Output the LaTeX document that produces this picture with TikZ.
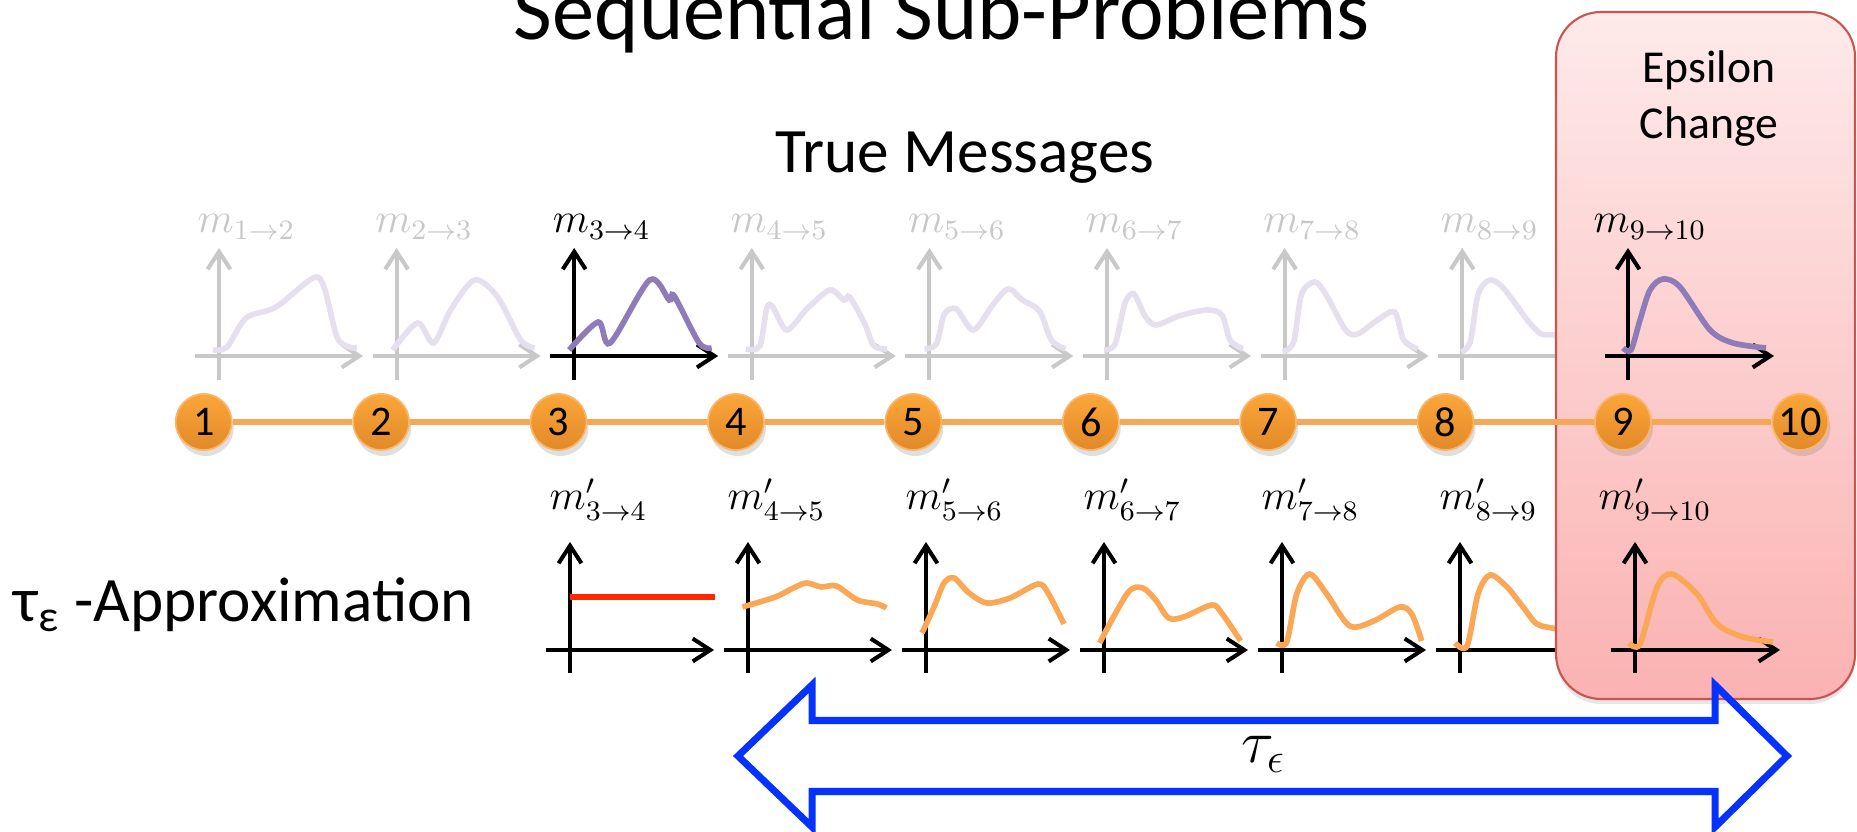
\documentclass[tikz,border=0pt]{standalone}
\usepackage[no-math]{fontspec}
\newfontfamily\calibri{Carlito}
\usepackage{tikz}
\usetikzlibrary{arrows.meta, shadows}
\definecolor{axisgray}{RGB}{200,200,200}
\definecolor{lavender}{RGB}{229,223,238}
\definecolor{msgpurple}{RGB}{142,124,184}
\definecolor{approxorange}{RGB}{250,168,85}
\definecolor{approxred}{RGB}{255,40,0}
\definecolor{nodetop}{RGB}{251,166,58}
\definecolor{nodebottom}{RGB}{226,137,40}
\definecolor{nodeedge}{RGB}{250,182,105}
\definecolor{chainorange}{RGB}{246,168,90}
\definecolor{boxtop}{RGB}{254,234,234}
\definecolor{boxbottom}{RGB}{251,178,178}
\definecolor{boxedge}{RGB}{200,85,80}
\definecolor{arrowblue}{RGB}{5,50,255}

\begin{document}
\begin{tikzpicture}[x=1cm, y=1cm,
    axis/.style={line width=1.15pt, -{Straight Barb[length=5pt,width=6.5pt]}},
    fadedcurve/.style={lavender, line width=1.6pt},
    truecurve/.style={msgpurple, line width=1.6pt},
    approxcurve/.style={approxorange, line width=1.6pt},
    msglabel/.style={anchor=base west, inner sep=0pt, font=\fontsize{12}{14}\selectfont},
    varnode/.style={circle, minimum size=0.56cm, inner sep=0pt, top color=nodetop,
      bottom color=nodebottom, draw=nodeedge, line width=0.5pt,
      font=\calibri\fontsize{12}{12}\selectfont,
      drop shadow={opacity=0.25, shadow xshift=0.02cm, shadow yshift=-0.06cm}},
    chain/.style={chainorange, line width=1.7pt},
  ]
  \useasboundingbox (0,0) rectangle (18.57,8.32);

  % headings
  \node[font=\calibri\fontsize{24}{24}\selectfont, anchor=base] (title) at (9.42,7.92) {Sequential Sub-Problems};
  \node[font=\calibri\fontsize{18}{18}\selectfont, anchor=base] (truemsg) at (9.65,6.59) {True Messages};
  \node[font=\calibri\fontsize{18}{18}\selectfont, anchor=base west, inner sep=0pt] (approx) at (0.13,2.10)
    {τ\textsubscript{ε} -Approximation};

  % true messages, axes and labels
  \foreach \k/\col in {1/axisgray, 2/axisgray, 3/black, 4/axisgray, 5/axisgray, 6/axisgray, 7/axisgray, 8/axisgray} {
    \pgfmathsetmacro{\gx}{2.19+1.776*(\k-1)}
    \pgfmathtruncatemacro{\kn}{\k+1}
    \draw[axis, \col] (\gx-0.24,4.76) -- (\gx+1.44,4.76);
    \draw[axis, \col] (\gx,4.52) -- (\gx,5.84);
    \node[msglabel, \col] (top\k) at (\gx-0.22,5.99) {$m_{\k\to\kn}$};
  }
  \draw[fadedcurve, shift={(2.19,4.76)}] plot[smooth] coordinates
    {(-0.06,0.06) (0.08,0.09) (0.27,0.38) (0.57,0.49) (0.94,0.78) (1.05,0.69) (1.18,0.19) (1.30,0.09) (1.38,0.08)};
  \draw[fadedcurve, shift={(3.966,4.76)}] plot[smooth] coordinates
    {(-0.04,0.06) (0.21,0.33) (0.37,0.13) (0.54,0.46) (0.78,0.76) (1.01,0.59) (1.24,0.16) (1.38,0.08)};
  \draw[truecurve, shift={(5.742,4.76)}] plot[smooth] coordinates
    {(-0.05,0.06) (0.24,0.34) (0.36,0.13) (0.755,0.76) (0.95,0.56) (1.00,0.60) (1.25,0.13) (1.375,0.08)};
  \draw[fadedcurve, shift={(7.518,4.76)}] plot[smooth] coordinates
    {(-0.06,0.07) (0.08,0.10) (0.15,0.48) (0.21,0.49) (0.35,0.26) (0.55,0.47) (0.78,0.66) (0.92,0.56) (0.98,0.59) (1.13,0.32) (1.22,0.10) (1.35,0.07)};
  \draw[fadedcurve, shift={(9.294,4.76)}] plot[smooth] coordinates
    {(-0.05,0.07) (0.07,0.12) (0.15,0.42) (0.27,0.47) (0.44,0.26) (0.64,0.52) (0.79,0.67) (0.93,0.56) (1.10,0.45) (1.22,0.16) (1.36,0.07)};
  \draw[fadedcurve, shift={(11.07,4.76)}] plot[smooth] coordinates
    {(-0.03,0.06) (0.08,0.12) (0.18,0.53) (0.27,0.62) (0.38,0.40) (0.49,0.31) (0.72,0.40) (1.0,0.46) (1.15,0.41) (1.23,0.16) (1.36,0.07)};
  \draw[fadedcurve, shift={(12.846,4.76)}] plot[smooth] coordinates
    {(-0.02,0.04) (0.09,0.14) (0.17,0.62) (0.30,0.74) (0.41,0.62) (0.61,0.26) (0.73,0.22) (0.93,0.36) (1.10,0.44) (1.19,0.16) (1.33,0.07)};
  \draw[fadedcurve, shift={(14.622,4.76)}] plot[smooth] coordinates
    {(-0.01,0.04) (0.08,0.14) (0.16,0.62) (0.28,0.76) (0.42,0.67) (0.65,0.36) (0.79,0.22) (0.93,0.21) (1.15,0.14) (1.38,0.08)};

  % approximate messages, axes and labels
  \foreach \k in {3,...,8} {
    \pgfmathsetmacro{\gx}{5.70+1.78*(\k-3)}
    \pgfmathtruncatemacro{\kn}{\k+1}
    \draw[axis] (\gx-0.24,1.82) -- (\gx+1.44,1.82);
    \draw[axis] (\gx,1.59) -- (\gx,2.90);
    \node[msglabel] (bot\k) at (\gx-0.21,3.22) {$m'_{\k\to\kn}$};
  }
  \draw[approxred, line width=1.5pt] (5.70,2.35) -- (7.15,2.35);
  \draw[approxcurve, shift={(7.474,1.82)}] plot[smooth] coordinates
    {(-0.05,0.43) (0.28,0.53) (0.46,0.62) (0.59,0.67) (0.74,0.63) (0.89,0.64) (1.10,0.50) (1.30,0.46) (1.39,0.42)};
  \draw[approxcurve, shift={(9.26,1.82)}] plot[smooth] coordinates
    {(-0.04,0.17) (0.08,0.43) (0.18,0.67) (0.28,0.72) (0.43,0.57) (0.61,0.47) (0.84,0.52) (1.12,0.66) (1.22,0.57) (1.38,0.26)};
  \draw[approxcurve, shift={(11.036,1.82)}] plot[smooth] coordinates
    {(-0.04,0.07) (0.24,0.57) (0.39,0.62) (0.52,0.50) (0.65,0.32) (0.80,0.33) (1.08,0.45) (1.18,0.37) (1.37,0.09)};
  \draw[approxcurve, shift={(12.817,1.82)}] plot[smooth] coordinates
    {(-0.05,0.07) (0.05,0.08) (0.15,0.56) (0.28,0.76) (0.45,0.56) (0.68,0.24) (0.92,0.29) (1.18,0.43) (1.30,0.36) (1.40,0.09)};
  \draw[approxcurve, shift={(14.60,1.82)}] plot[smooth] coordinates
    {(-0.05,0.07) (0.07,0.04) (0.18,0.56) (0.30,0.75) (0.47,0.63) (0.63,0.43) (0.77,0.26) (0.97,0.21) (1.2,0.15) (1.38,0.08)};

  % epsilon change box
  \draw[boxedge, line width=0.6pt, top color=boxtop, bottom color=boxbottom, rounded corners=0.45cm,
    drop shadow={opacity=0.2, shadow xshift=0cm, shadow yshift=-0.05cm}] (15.56,1.33) rectangle (18.55,8.20);
  \node[font=\calibri\fontsize{13}{16}\selectfont, align=center, anchor=base] (epsilon) at (17.09,6.93) {Epsilon\\Change};

  % chain of variables
  \foreach \i in {1,...,10}
    \node[varnode] (n\i) at (2.037+1.774*\i-1.774,4.10) {\i};
  \foreach \i in {1,...,9} {
    \pgfmathtruncatemacro{\j}{\i+1}
    \draw[chain] (n\i) -- (n\j);
  }

  % messages into node 10
  \draw[axis] (16.05,4.76) -- (17.74,4.76);
  \draw[axis] (16.28,4.52) -- (16.28,5.84);
  \draw[truecurve, shift={(16.28,4.76)}] plot[smooth] coordinates
    {(-0.05,0.08) (0.03,0.06) (0.12,0.36) (0.22,0.66) (0.35,0.77) (0.52,0.69) (0.82,0.26) (1.05,0.13) (1.38,0.08)};
  \node[msglabel] (top9) at (15.93,5.99) {$m_{9\to10}$};
  \draw[axis] (16.11,1.82) -- (17.80,1.82);
  \draw[axis] (16.35,1.59) -- (16.35,2.90);
  \draw[approxcurve, shift={(16.35,1.82)}] plot[smooth] coordinates
    {(-0.06,0.07) (0.05,0.06) (0.22,0.63) (0.37,0.76) (0.62,0.56) (0.82,0.26) (1.08,0.13) (1.38,0.08)};
  \node[msglabel] (bot9) at (15.98,3.22) {$m'_{9\to10}$};

  % tau_epsilon span
  \draw[arrowblue, line width=2pt, line join=miter]
    (7.38,0.76) -- (8.12,1.47) -- (8.12,1.115) -- (17.15,1.115) -- (17.15,1.47) -- (17.87,0.76)
    -- (17.15,0.05) -- (17.15,0.405) -- (8.12,0.405) -- (8.12,0.05) -- cycle;
  \node[anchor=base, inner sep=0pt, font=\fontsize{18}{18}\selectfont] (tau) at (12.635,0.69) {$\tau_\epsilon$};
\end{tikzpicture}
\end{document}
